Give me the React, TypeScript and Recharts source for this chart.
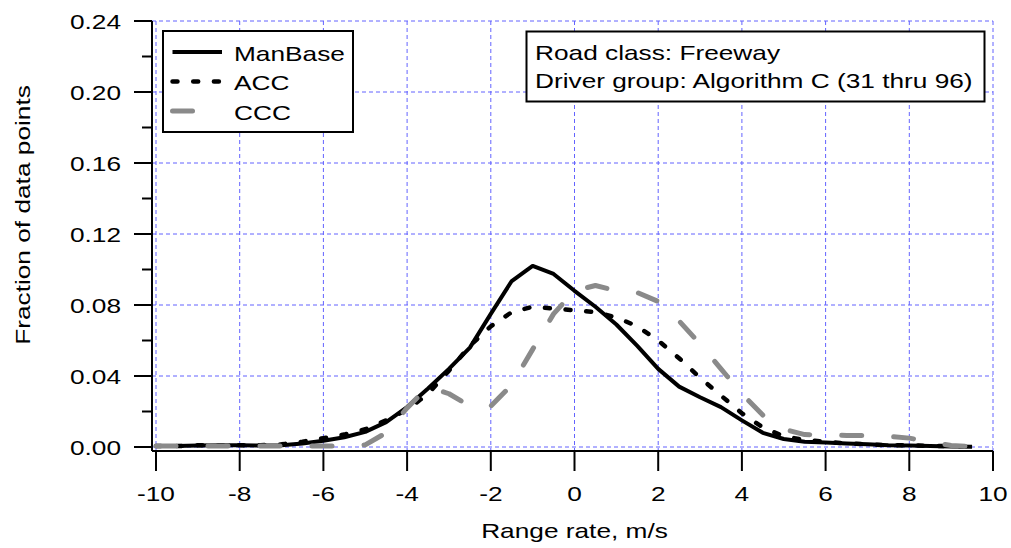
import React from "react";
import { LineChart, Line, XAxis, YAxis, CartesianGrid, Legend } from "recharts";

// range rate bins, m/s
const RANGE_RATE = [
  -10, -9.5, -9, -8.5, -8, -7.5, -7, -6.5, -6, -5.5, -5, -4.5, -4, -3.5, -3, -2.5, -2, -1.5, -1, -0.5,
  0, 0.5, 1, 1.5, 2, 2.5, 3, 3.5, 4, 4.5, 5, 5.5, 6, 6.5, 7, 7.5, 8, 8.5, 9, 9.5,
];

const MAN_BASE = [
  0.0005, 0.0006, 0.0008, 0.001, 0.001, 0.0008, 0.001, 0.002, 0.0035, 0.0055, 0.0085, 0.014, 0.0225, 0.033, 0.044, 0.056, 0.075, 0.0935, 0.102, 0.0975,
  0.088, 0.079, 0.069, 0.057, 0.044, 0.034, 0.028, 0.0225, 0.015, 0.008, 0.0045, 0.003, 0.0025, 0.002, 0.0015, 0.001, 0.0008, 0.0005, 0.0003, 0.0002,
];

const ACC = [
  0.0005, 0.0005, 0.001, 0.001, 0.001, 0.001, 0.0015, 0.003, 0.005, 0.007, 0.01, 0.015, 0.021, 0.03, 0.043, 0.057, 0.068, 0.076, 0.079, 0.078,
  0.077, 0.076, 0.073, 0.068, 0.06, 0.05, 0.039, 0.029, 0.019, 0.011, 0.006, 0.004, 0.003, 0.002, 0.0015, 0.001, 0.001, 0.0005, 0.0005, 0.0003,
];

const CCC = [
  0.0005, 0.0005, 0.0005, 0.0005, 0.0005, 0.0005, 0.0005, 0.0005, 0.0005, 0.0005, 0.0012, 0.008, 0.022, 0.034, 0.03, 0.023, 0.023, 0.035, 0.055, 0.075,
  0.088, 0.091, 0.088, 0.087, 0.082, 0.071, 0.058, 0.044, 0.03, 0.018, 0.01, 0.007, 0.0068, 0.0065, 0.0065, 0.006, 0.005, 0.0028, 0.0008, 0.0003,
];

const X_TICKS = [-10, -8, -6, -4, -2, 0, 2, 4, 6, 8, 10];
const Y_TICKS = [0, 0.02, 0.04, 0.06, 0.08, 0.1, 0.12, 0.14, 0.16, 0.18, 0.2, 0.22, 0.24];
const Y_MAJOR = [0, 0.04, 0.08, 0.12, 0.16, 0.2, 0.24];
const Y_MAX = 0.24;
const Y_PAD = 4;

const SERIES = [
  { key: "manBase", name: "ManBase", color: "#000", width: 4, dash: undefined as string | undefined },
  { key: "acc", name: "ACC", color: "#000", width: 4.5, dash: "5 15.7" },
  { key: "ccc", name: "CCC", color: "#8a8a8a", width: 5, dash: "20 32" },
];

const INFO_LINES = ["Road class: Freeway", "Driver group: Algorithm C (31 thru 96)"];

const data = RANGE_RATE.map((x, i) => ({ x, manBase: MAN_BASE[i], acc: ACC[i], ccc: CCC[i] }));

const FONT = '"Liberation Sans", Arial, Helvetica, sans-serif';
const FS = 21;
const SX = 1.25;
const GRID = "#6363ff";

const Stretch = ({ x, y, anchor = "start", rotate = 0, children }: any) => (
  <text
    transform={`translate(${x},${y}) rotate(${rotate}) scale(${SX},1)`}
    textAnchor={anchor}
    fontSize={FS}
    fontFamily={FONT}
    fill="#000"
  >
    {children}
  </text>
);

const XTick = ({ x, y, payload }: any) => (
  <g transform={`translate(${x},${y})`}>
    <line x1={0} y1={0} x2={0} y2={20} stroke="#000" strokeWidth={2} />
    <Stretch x={0} y={50} anchor="middle">{payload.value}</Stretch>
  </g>
);

const YTick = ({ x, y, payload }: any) => {
  const major = Math.round(payload.value * 100) % 4 === 0;
  return (
    <g transform={`translate(${x},${y})`}>
      <line x1={0} y1={0} x2={major ? -18 : -10} y2={0} stroke="#000" strokeWidth={2} />
      {major && <Stretch x={-31} y={7.5} anchor="end">{payload.value.toFixed(2)}</Stretch>}
    </g>
  );
};

// only the major y values get a grid line
const majorRows = ({ yAxis, offset }: any) => {
  const s = yAxis && yAxis.scale;
  if (typeof s === "function") return Y_MAJOR.map((v) => s(v));
  if (s && typeof s.map === "function") return Y_MAJOR.map((v) => s.map(v));
  const bottom = offset.top + offset.height - Y_PAD;
  const span = offset.height - Y_PAD;
  return Y_MAJOR.map((v) => bottom - (v / Y_MAX) * span);
};

const renderLegend = () => (
  <svg width={194} height={105} style={{ display: "block" }}>
    <rect x={1} y={1} width={190} height={101} fill="#fff" stroke="#000" strokeWidth={2} />
    {SERIES.map((s, i) => (
      <g key={s.key}>
        <line
          x1={10.5}
          x2={s.key === "ccc" ? 30.5 : s.key === "acc" ? 58 : 60}
          y1={22 + i * 29.5}
          y2={22 + i * 29.5}
          stroke={s.color}
          strokeWidth={s.width}
          strokeDasharray={s.dash}
          strokeLinecap={s.dash ? "round" : "butt"}
        />
        <Stretch x={72} y={30.5 + i * 29.5}>{s.name}</Stretch>
      </g>
    ))}
  </svg>
);

export default function App() {
  return (
    <div style={{ position: "absolute", left: 0, top: 0, width: 1011, height: 548, background: "#fff" }}>
      <LineChart width={1011} height={548} data={data} margin={{ top: 21, right: 18, bottom: 37, left: 52 }}>
        <CartesianGrid
          stroke={GRID}
          strokeDasharray="4 3"
          strokeWidth={1}
          horizontalCoordinatesGenerator={majorRows}
        />
        <XAxis
          dataKey="x"
          type="number"
          domain={[-10, 10]}
          ticks={X_TICKS}
          interval={0}
          height={60}
          padding={{ left: 4, right: 0 }}
          axisLine={{ stroke: "#000", strokeWidth: 2 }}
          tickLine={false}
          tickSize={0}
          tickMargin={0}
          tick={<XTick />}
          label={{
            content: ({ viewBox }: any) => (
              <Stretch x={viewBox.x + viewBox.width / 2 + 2} y={viewBox.y + 86.5} anchor="middle">
                Range rate, m/s
              </Stretch>
            ),
          }}
        />
        <YAxis
          type="number"
          domain={[0, Y_MAX]}
          ticks={Y_TICKS}
          interval={0}
          width={100}
          padding={{ top: 0, bottom: Y_PAD }}
          axisLine={{ stroke: "#000", strokeWidth: 2 }}
          tickLine={false}
          tickSize={0}
          tickMargin={0}
          tick={<YTick />}
          label={{
            content: ({ viewBox }: any) => (
              <Stretch x={viewBox.x - 22} y={viewBox.y + viewBox.height / 2 - 21} rotate={-90} anchor="middle">
                Fraction of data points
              </Stretch>
            ),
          }}
        />
        <Legend
          layout="horizontal"
          align="center"
          verticalAlign="middle"
          content={renderLegend}
          wrapperStyle={{ position: "absolute", left: 162, top: 30, width: 194, height: 105 }}
        />
        {SERIES.map((s) => (
          <Line
            key={s.key}
            type="linear"
            dataKey={s.key}
            name={s.name}
            stroke={s.color}
            strokeWidth={s.width}
            strokeDasharray={s.dash}
            strokeLinecap={s.dash ? "round" : "butt"}
            strokeLinejoin="round"
            dot={false}
            activeDot={false}
            isAnimationActive={false}
          />
        ))}
      </LineChart>
      <svg width={462} height={74} style={{ position: "absolute", left: 525, top: 30 }}>
        <rect x={1.5} y={1.5} width={458} height={70} fill="#fff" stroke="#000" strokeWidth={2} />
        {INFO_LINES.map((t, i) => (
          <Stretch key={t} x={10} y={30 + i * 28.3}>{t}</Stretch>
        ))}
      </svg>
    </div>
  );
}
